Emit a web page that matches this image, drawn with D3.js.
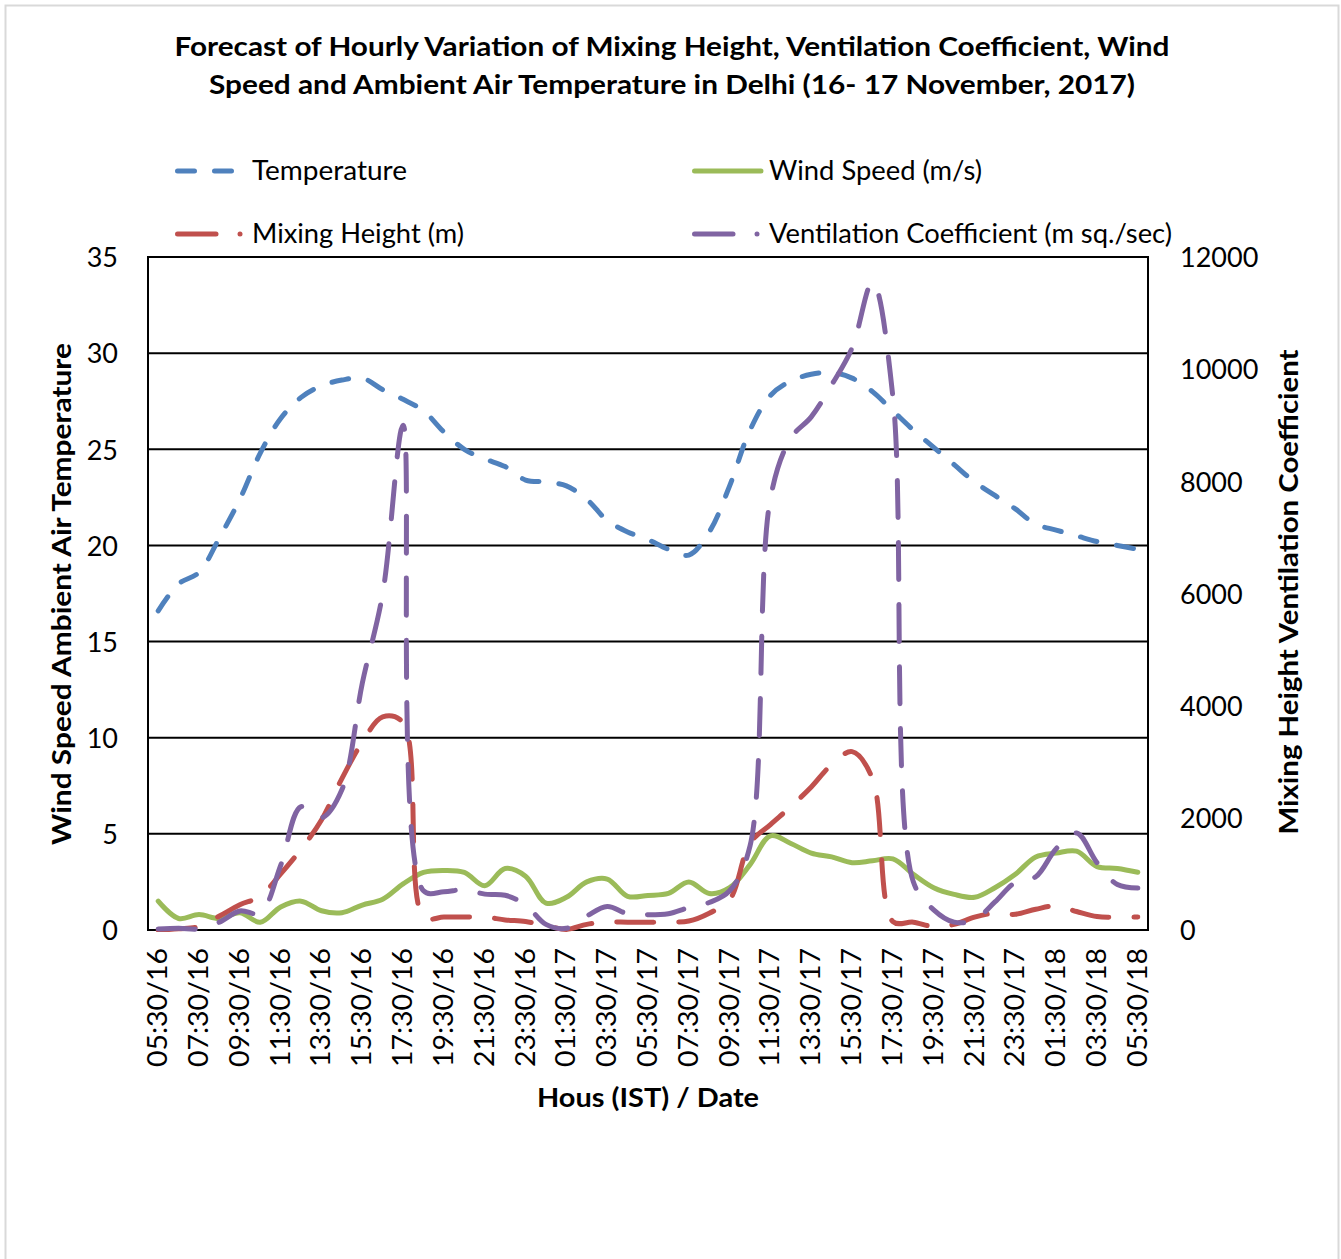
<!DOCTYPE html>
<html>
<head>
<meta charset="utf-8">
<title>Mixing Height Delhi</title>
<style>
  body { margin: 0; background: #fff; }
  text { font-family: Lato, "Open Sans", sans-serif; fill: #000; }
</style>
</head>
<body>
<div id="chart"></div>
<script src="https://d3js.org/d3.v7.min.js"></script>
<script>
// hourly categories, 16-18 Nov
var hours = ["05:30/16","06:30/16","07:30/16","08:30/16","09:30/16","10:30/16","11:30/16","12:30/16","13:30/16","14:30/16",
  "15:30/16","16:30/16","17:30/16","18:30/16","19:30/16","20:30/16","21:30/16","22:30/16","23:30/16","00:30/17",
  "01:30/17","02:30/17","03:30/17","04:30/17","05:30/17","06:30/17","07:30/17","08:30/17","09:30/17","10:30/17",
  "11:30/17","12:30/17","13:30/17","14:30/17","15:30/17","16:30/17","17:30/17","18:30/17","19:30/17","20:30/17",
  "21:30/17","22:30/17","23:30/17","00:30/18","01:30/18","02:30/18","03:30/18","04:30/18","05:30/18"];

// left axis series
var temperature = [16.6,18.0,18.6,20.4,22.4,24.8,26.6,27.7,28.3,28.6,28.7,28.1,27.6,27.0,25.9,25.0,24.5,24.1,23.4,23.3,
  23.1,22.4,21.3,20.7,20.3,19.8,19.5,20.7,23.1,26.0,27.8,28.55,28.9,29.0,28.7,28.0,27.0,26.0,25.1,24.2,
  23.3,22.6,21.9,21.1,20.8,20.5,20.2,20.0,19.8];
var windSpeed = [1.5,0.6,0.8,0.6,0.9,0.4,1.2,1.5,1.0,0.9,1.3,1.6,2.4,3.0,3.1,3.0,2.3,3.2,2.8,1.4,
  1.7,2.5,2.65,1.75,1.8,1.9,2.5,1.9,2.2,3.4,4.9,4.5,4.0,3.8,3.5,3.6,3.7,2.9,2.2,1.85,
  1.7,2.2,2.9,3.8,4.0,4.1,3.3,3.2,3.0];

// right axis series
var mixingHeight = [0,20,60,250,450,600,1000,1440,1960,2700,3350,3800,3700,230,230,230,230,180,150,80,
  10,100,140,140,140,140,160,300,540,1550,1880,2200,2550,2950,3180,2700,150,140,60,100,
  230,300,280,370,430,330,240,230,230];
var ventilation = [20,30,20,140,340,300,1150,2200,2000,2500,4400,6000,9000,700,680,720,640,620,450,100,
  30,250,420,290,270,290,400,490,700,1500,7700,8770,9150,9720,10380,11550,9500,860,360,140,
  180,500,850,950,1450,1730,1200,810,750];

var leftTicks = [0,5,10,15,20,25,30,35];
var rightTicks = [0,2000,4000,6000,8000,10000,12000];

var W = 1341, H = 1259;
var x0 = 148, x1 = 1148, yTop = 257, yBot = 930;

var svg = d3.select("#chart").append("svg")
  .attr("width", W).attr("height", H);

// outer chart border
svg.append("rect")
  .attr("x", 5.5).attr("y", 5.5).attr("width", 1333).attr("height", 1270)
  .attr("fill", "#fff").attr("stroke", "#d9d9d9").attr("stroke-width", 2);

var x = d3.scalePoint().domain(d3.range(hours.length)).range([x0, x1]).padding(0.5);
var yL = d3.scaleLinear().domain([0, 35]).range([yBot, yTop]);
var yR = d3.scaleLinear().domain([0, 12000]).range([yBot, yTop]);

// title
svg.append("text").attr("x", 672).attr("y", 56).attr("text-anchor", "middle")
  .attr("font-size", 26).attr("font-weight", "bold")
  .attr("textLength", 995).attr("lengthAdjust", "spacingAndGlyphs")
  .text("Forecast of Hourly Variation of Mixing Height, Ventilation Coefficient, Wind");
svg.append("text").attr("x", 672).attr("y", 94).attr("text-anchor", "middle")
  .attr("font-size", 26).attr("font-weight", "bold")
  .attr("textLength", 926).attr("lengthAdjust", "spacingAndGlyphs")
  .text("Speed and Ambient Air Temperature in Delhi (16- 17 November, 2017)");

// gridlines + frame
svg.append("g").selectAll("line").data(leftTicks.slice(1, -1)).enter().append("line")
  .attr("x1", x0).attr("x2", x1)
  .attr("y1", function(d) { return yL(d); }).attr("y2", function(d) { return yL(d); })
  .attr("stroke", "#000").attr("stroke-width", 2);
svg.append("rect").attr("x", x0).attr("y", yTop).attr("width", x1 - x0).attr("height", yBot - yTop)
  .attr("fill", "none").attr("stroke", "#000").attr("stroke-width", 2);

// left axis
var axL = svg.append("g").attr("transform", "translate(" + x0 + ",0)")
  .call(d3.axisLeft(yL).tickValues(leftTicks).tickSize(0).tickPadding(30));
axL.select(".domain").remove();
axL.selectAll("text").attr("font-size", 27).attr("font-family", "Lato").attr("dy", "0.36em").attr("fill", "#000");

// right axis
var axR = svg.append("g").attr("transform", "translate(" + x1 + ",0)")
  .call(d3.axisRight(yR).tickValues(rightTicks).tickFormat(d3.format("d")).tickSize(0).tickPadding(32));
axR.select(".domain").remove();
axR.selectAll("text").attr("font-size", 27).attr("font-family", "Lato").attr("dy", "0.36em").attr("fill", "#000");

// x tick labels, every 2 hours
svg.append("g").selectAll("text")
  .data(d3.range(0, hours.length, 2)).enter().append("text")
  .attr("transform", function(i) { return "translate(" + (x(i) + 9) + ",948) rotate(-90)"; })
  .attr("text-anchor", "end")
  .attr("font-size", 27)
  .attr("textLength", 119).attr("lengthAdjust", "spacingAndGlyphs")
  .text(function(i) { return hours[i]; });

// axis titles
svg.append("text").attr("transform", "translate(71,594) rotate(-90)")
  .attr("text-anchor", "middle").attr("font-size", 27).attr("font-weight", "bold")
  .attr("textLength", 502).attr("lengthAdjust", "spacingAndGlyphs")
  .text("Wind Speed Ambient Air Temperature");
svg.append("text").attr("transform", "translate(1298,592) rotate(-90)")
  .attr("text-anchor", "middle").attr("font-size", 27).attr("font-weight", "bold")
  .attr("textLength", 485).attr("lengthAdjust", "spacingAndGlyphs")
  .text("Mixing Height Ventilation Coefficient");
svg.append("text").attr("x", 648).attr("y", 1107).attr("text-anchor", "middle")
  .attr("font-size", 27).attr("font-weight", "bold")
  .attr("textLength", 222).attr("lengthAdjust", "spacingAndGlyphs")
  .text("Hous (IST) / Date");

// series
var series = [
  {name: "Temperature", values: temperature, y: yL, color: "#4F81BD", dash: "17,20"},
  {name: "Wind Speed (m/s)", values: windSpeed, y: yL, color: "#9BBB59", dash: null},
  {name: "Mixing Height (m)", values: mixingHeight, y: yR, color: "#C0504D", dash: "37,25"},
  {name: "Ventilation Coefficient (m sq./sec)", values: ventilation, y: yR, color: "#8064A2", dash: "37,25"}
];

svg.append("clipPath").attr("id", "plot").append("rect")
  .attr("x", x0).attr("y", yTop - 10).attr("width", x1 - x0).attr("height", yBot - yTop + 12);

var plot = svg.append("g").attr("clip-path", "url(#plot)");
series.forEach(function(s) {
  var line = d3.line()
    .x(function(d, i) { return x(i); })
    .y(function(d) { return s.y(d); })
    .curve(d3.curveCatmullRom.alpha(0.5));
  plot.append("path")
    .attr("d", line(s.values))
    .attr("fill", "none")
    .attr("stroke", s.color)
    .attr("stroke-width", 5)
    .attr("stroke-linecap", "round")
    .attr("stroke-linejoin", "round")
    .attr("stroke-dasharray", s.dash);
});

// legend
var legPos = [[175, 171], [692, 171], [175, 234], [692, 234]];
var legTextLen = [155, 213, 212, 403];
series.forEach(function(s, k) {
  var lx = legPos[k][0], ly = legPos[k][1];
  var g = svg.append("g");
  if (k === 0) {
    g.append("line").attr("x1", lx + 2.5).attr("x2", lx + 58).attr("y1", ly).attr("y2", ly)
      .attr("stroke", s.color).attr("stroke-width", 5).attr("stroke-linecap", "round")
      .attr("stroke-dasharray", s.dash);
  } else if (k === 1) {
    g.append("line").attr("x1", lx + 2.5).attr("x2", lx + 69).attr("y1", ly).attr("y2", ly)
      .attr("stroke", s.color).attr("stroke-width", 5).attr("stroke-linecap", "round");
  } else {
    g.append("line").attr("x1", lx + 2.5).attr("x2", lx + 41).attr("y1", ly).attr("y2", ly)
      .attr("stroke", s.color).attr("stroke-width", 5).attr("stroke-linecap", "round");
    g.append("circle").attr("cx", lx + 65).attr("cy", ly).attr("r", 2.5).attr("fill", s.color);
  }
  g.append("text").attr("x", k % 2 === 0 ? 252 : 769).attr("y", ly + 9)
    .attr("font-size", 26)
    .attr("textLength", legTextLen[k]).attr("lengthAdjust", "spacingAndGlyphs")
    .text(s.name);
});
</script>
</body>
</html>
